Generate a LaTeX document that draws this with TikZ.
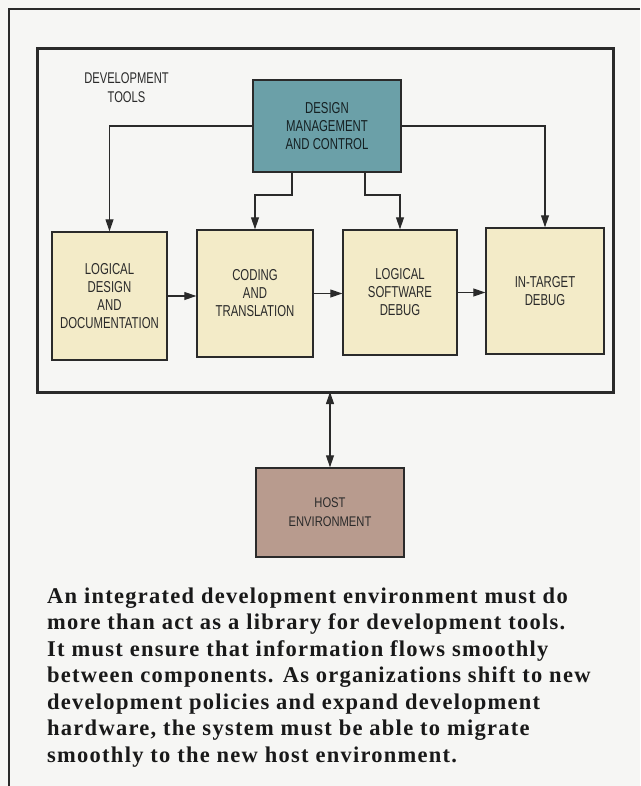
\documentclass[tikz,border=0pt]{standalone}
\usepackage{fontspec}
\setmainfont{Liberation Serif}
\newfontfamily\condfont[FakeStretch=0.72]{Liberation Sans}
\newfontfamily\hostfont[FakeStretch=0.8]{Liberation Sans}
\newfontfamily\capfont[LetterSpace=5.6]{Liberation Serif}
\usetikzlibrary{arrows.meta}
\definecolor{bgc}{HTML}{F6F6F4}
\definecolor{teal1}{HTML}{6BA0A8}
\definecolor{yel}{HTML}{F3EBC8}
\definecolor{hostc}{HTML}{B89B8E}
\definecolor{ink}{HTML}{2A2A2A}
\tikzset{
  box/.style={draw=ink, line width=1.4pt, rectangle, inner sep=0pt, align=center,
    font=\condfont\fontsize{15.8}{18}\selectfont, text=ink},
  toolbox/.style={box, fill=yel},
  conn/.style={draw=ink, line width=1.1pt, -{Triangle[length=12pt,width=8pt]}},
  biconn/.style={draw=ink, line width=1.1pt, {Triangle[length=12pt,width=8pt]}-{Triangle[length=12pt,width=8pt]}},
}
\begin{document}
\begin{tikzpicture}[x=1pt,y=-1pt]
\fill[bgc] (0,0) rectangle (640,786);
\useasboundingbox (0,0) rectangle (640,786);
% outer frame
\draw[ink, line width=2.2pt] (640,9) -- (9,9) -- (9,786);
% inner frame
\node[draw=ink, line width=3pt, rectangle, minimum width=576pt, minimum height=343pt, inner sep=0pt] (frame) at (325,220.5) {};
\node[align=center, font=\condfont\fontsize{15.5}{19}\selectfont, text=ink] (devtools) at (126.5,87.5) {DEVELOPMENT\\TOOLS};
% boxes
\node[box, fill=teal1, minimum width=148pt, minimum height=92pt, text=black!80!teal1] (dmc) at (327,126) {DESIGN\\MANAGEMENT\\AND CONTROL};
\node[toolbox, minimum width=115pt, minimum height=128pt] (ld) at (109.5,296) {LOGICAL\\DESIGN\\AND\\DOCUMENTATION};
\node[toolbox, minimum width=116pt, minimum height=127pt] (ct) at (255,293.5) {CODING\\AND\\TRANSLATION};
\node[toolbox, minimum width=114pt, minimum height=125pt] (lsd) at (400,292.5) {LOGICAL\\SOFTWARE\\DEBUG};
\node[toolbox, minimum width=118pt, minimum height=126pt] (itd) at (545,291) {IN-TARGET\\DEBUG};
\node[box, fill=hostc, minimum width=148pt, minimum height=89pt, font=\hostfont\fontsize{14}{19}\selectfont] (host) at (330,512.5) {HOST\\ENVIRONMENT};
% connectors
\coordinate (b1) at (292,172);
\coordinate (b2) at (365,172);
\coordinate (fb) at (330,392);
\draw[conn] (dmc.west) -| (ld.north);
\draw[conn] (dmc.east) -| (itd.north);
\draw[conn] (b1) -- ++(0,23) -| (ct.north);
\draw[conn] (b2) -- ++(0,23) -| (lsd.north);
\draw[conn] (ld.east) -- (ld.east -| ct.west);
\draw[conn] (ct.east) -- (ct.east -| lsd.west);
\draw[conn] (lsd.east) -- (lsd.east -| itd.west);
\draw[biconn] (fb) -- (host.north);
% caption
\node[anchor=base west, align=left, inner sep=0pt, text=black!90,
  font=\capfont\bfseries\fontsize{22.5}{26.5}\selectfont] (cap) at (47,762)
 {An integrated development environment must do\\
  more than act as a library for development tools.\\
  It must ensure that information flows smoothly\\
  between components. As organizations shift to new\\
  development policies and expand development\\
  hardware, the system must be able to migrate\\
  smoothly to the new host environment.};
\end{tikzpicture}
\end{document}
